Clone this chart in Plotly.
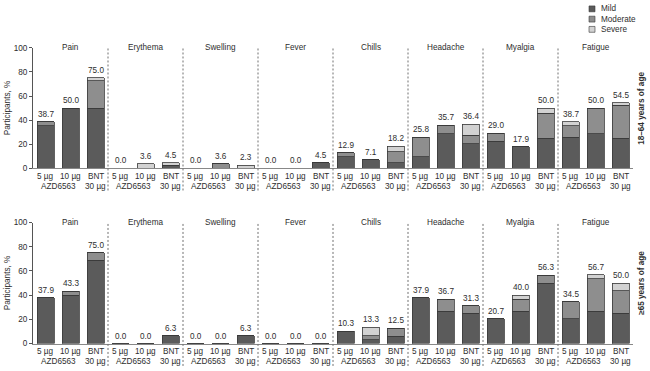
import plotly.graph_objects as go

categories = ["Pain", "Erythema", "Swelling", "Fever", "Chills", "Headache", "Myalgia", "Fatigue"]
dose_line1 = ["5 µg", "10 µg", "BNT"]
severities = ["Mild", "Moderate", "Severe"]

# 18–64 years of age: values per category for [5 µg, 10 µg, BNT 30 µg]
top_mild = [[35.5, 50.0, 50.0], [0, 0, 2.3], [0, 0, 0], [0, 0, 4.5],
            [9.7, 7.1, 4.5], [9.7, 28.6, 20.5], [22.6, 17.9, 25.0], [25.8, 28.6, 25.0]]
top_moderate = [[3.2, 0, 22.7], [0, 0, 0], [0, 3.6, 0], [0, 0, 0],
                [3.2, 0, 9.1], [16.1, 7.1, 6.8], [6.4, 0, 20.5], [9.7, 21.4, 27.2]]
top_severe = [[0, 0, 2.3], [0, 3.6, 2.2], [0, 0, 2.3], [0, 0, 0],
              [0, 0, 4.6], [0, 0, 9.1], [0, 0, 4.5], [3.2, 0, 2.3]]
top_totals = [[38.7, 50.0, 75.0], [0.0, 3.6, 4.5], [0.0, 3.6, 2.3], [0.0, 0.0, 4.5],
              [12.9, 7.1, 18.2], [25.8, 35.7, 36.4], [29.0, 17.9, 50.0], [38.7, 50.0, 54.5]]

# ≥65 years of age
bot_mild = [[37.9, 40.0, 68.8], [0, 0, 6.3], [0, 0, 6.3], [0, 0, 0],
            [10.3, 3.3, 6.2], [37.9, 26.7, 25.0], [20.7, 26.7, 50.0], [20.7, 26.7, 25.0]]
bot_moderate = [[0, 3.3, 6.2], [0, 0, 0], [0, 0, 0], [0, 0, 0],
                [0, 3.3, 6.3], [0, 10.0, 6.3], [0, 10.0, 6.3], [13.8, 26.7, 18.8]]
bot_severe = [[0, 0, 0], [0, 0, 0], [0, 0, 0], [0, 0, 0],
              [0, 6.7, 0], [0, 0, 0], [0, 3.3, 0], [0, 3.3, 6.2]]
bot_totals = [[37.9, 43.3, 75.0], [0.0, 0.0, 6.3], [0.0, 0.0, 6.3], [0.0, 0.0, 0.0],
              [10.3, 13.3, 12.5], [37.9, 36.7, 31.3], [20.7, 40.0, 56.3], [34.5, 56.7, 50.0]]

panel_labels = ["18–64 years of age", "≥65 years of age"]

colors = {"Mild": "#5b5b5b", "Moderate": "#8e8e8e", "Severe": "#d2d2d2"}
edge = "#3a3a3a"
txt = "#2e2e2e"
FONT = "Liberation Sans, Arial, sans-serif"
FS = 8.2

n_groups = len(dose_line1)
positions = [i * n_groups + j + 0.5 for i in range(len(categories)) for j in range(n_groups)]

def flat(a):
    return [v for row in a for v in row]

fig = go.Figure()
panels = [
    ("x", "y", top_mild, top_moderate, top_severe, top_totals),
    ("x2", "y2", bot_mild, bot_moderate, bot_severe, bot_totals),
]
annotations = []
shapes = []
for pi, (xa, ya, mild, mod, sev, tot) in enumerate(panels):
    for name, data in zip(severities, [mild, mod, sev]):
        fig.add_trace(go.Bar(
            x=positions, y=flat(data), name=name, xaxis=xa, yaxis=ya,
            width=0.68, marker=dict(color=colors[name], line=dict(color=edge, width=0.8)),
            showlegend=False, hoverinfo="skip"))
    # value labels
    for p, t in zip(positions, flat(tot)):
        annotations.append(dict(x=p, y=t, xref=xa, yref=ya, text=f"{t:.1f}", showarrow=False,
                                yanchor="bottom", yshift=1, font=dict(size=FS, color=txt, family=FONT)))
    # category titles and x labels
    for i, c in enumerate(categories):
        annotations.append(dict(x=i * n_groups + 1.5, y=100, xref=xa, yref=ya, text=c, showarrow=False,
                                yanchor="middle", font=dict(size=FS, color=txt, family=FONT)))
        for j, lab in enumerate(dose_line1):
            annotations.append(dict(x=i * n_groups + j + 0.5, y=0, xref=xa, yref=ya, text=lab,
                                    showarrow=False, yanchor="middle", yshift=-8,
                                    font=dict(size=FS, color=txt, family=FONT)))
        annotations.append(dict(x=i * n_groups + 1.0, y=0, xref=xa, yref=ya, text="AZD6563",
                                showarrow=False, yanchor="middle", yshift=-18,
                                font=dict(size=FS, color=txt, family=FONT)))
        annotations.append(dict(x=i * n_groups + 2.5, y=0, xref=xa, yref=ya, text="30 µg",
                                showarrow=False, yanchor="middle", yshift=-18,
                                font=dict(size=FS, color=txt, family=FONT)))
        if i > 0:
            shapes.append(dict(type="line", xref="paper", yref=f"{ya} domain",
                               x0=i * n_groups / (len(categories) * n_groups),
                               x1=i * n_groups / (len(categories) * n_groups),
                               y0=-0.185, y1=1.0,
                               line=dict(color="#707070", width=1, dash="2px,2px")))
    # y title and panel label
    annotations.append(dict(x=-0.043, y=0.5, xref="paper", yref=f"{ya} domain", text="Participants, %",
                            textangle=-90, showarrow=False, xanchor="center", yanchor="middle",
                            font=dict(size=FS, color=txt, family=FONT)))
    annotations.append(dict(x=1.013, y=0.5, xref="paper", yref=f"{ya} domain",
                            text=f"<b>{panel_labels[pi]}</b>",
                            textangle=-90, showarrow=False, xanchor="center", yanchor="middle",
                            font=dict(size=FS, color=txt, family=FONT)))

# manual legend (top right)
H = 371.0
W_PLOT = 600.0
L = 33.0
for k, name in enumerate(severities):
    cy = 5 + k * 10.5
    shapes.append(dict(type="rect", xref="paper", yref="paper",
                       x0=(589 - L) / W_PLOT, x1=(595 - L) / W_PLOT,
                       y0=1 - (cy + 3) / H, y1=1 - (cy - 3) / H,
                       fillcolor=colors[name], line=dict(color=edge, width=0.6)))
    annotations.append(dict(x=(599 - L) / W_PLOT, y=1 - cy / H, xref="paper", yref="paper", text=name,
                            showarrow=False, xanchor="left", yanchor="middle",
                            font=dict(size=FS, color=txt, family=FONT)))

xcommon = dict(range=[0, len(categories) * n_groups], showticklabels=False, showgrid=False,
               zeroline=False, showline=True, linecolor="#888888", linewidth=1, ticks="", fixedrange=True)
ycommon = dict(range=[0, 100], dtick=20, showgrid=False, zeroline=False, showline=True,
               linecolor="#555555", linewidth=1, ticks="outside", ticklen=3, tickcolor="#555555",
               tickfont=dict(size=FS, color=txt, family=FONT), fixedrange=True)

fig.update_layout(
    width=650, height=371,
    margin=dict(l=33, r=17, t=0, b=0),
    barmode="stack",
    plot_bgcolor="white", paper_bgcolor="white",
    xaxis=dict(domain=[0, 1], anchor="y", **xcommon),
    yaxis=dict(domain=[1 - 168.3 / H, 1 - 45 / H], anchor="x", **ycommon),
    xaxis2=dict(domain=[0, 1], anchor="y2", **xcommon),
    yaxis2=dict(domain=[1 - 348 / H, 1 - 224 / H], anchor="x2", **ycommon),
    annotations=annotations,
    shapes=shapes,
    font=dict(family=FONT, color=txt),
)

fig.write_html("out.html")
